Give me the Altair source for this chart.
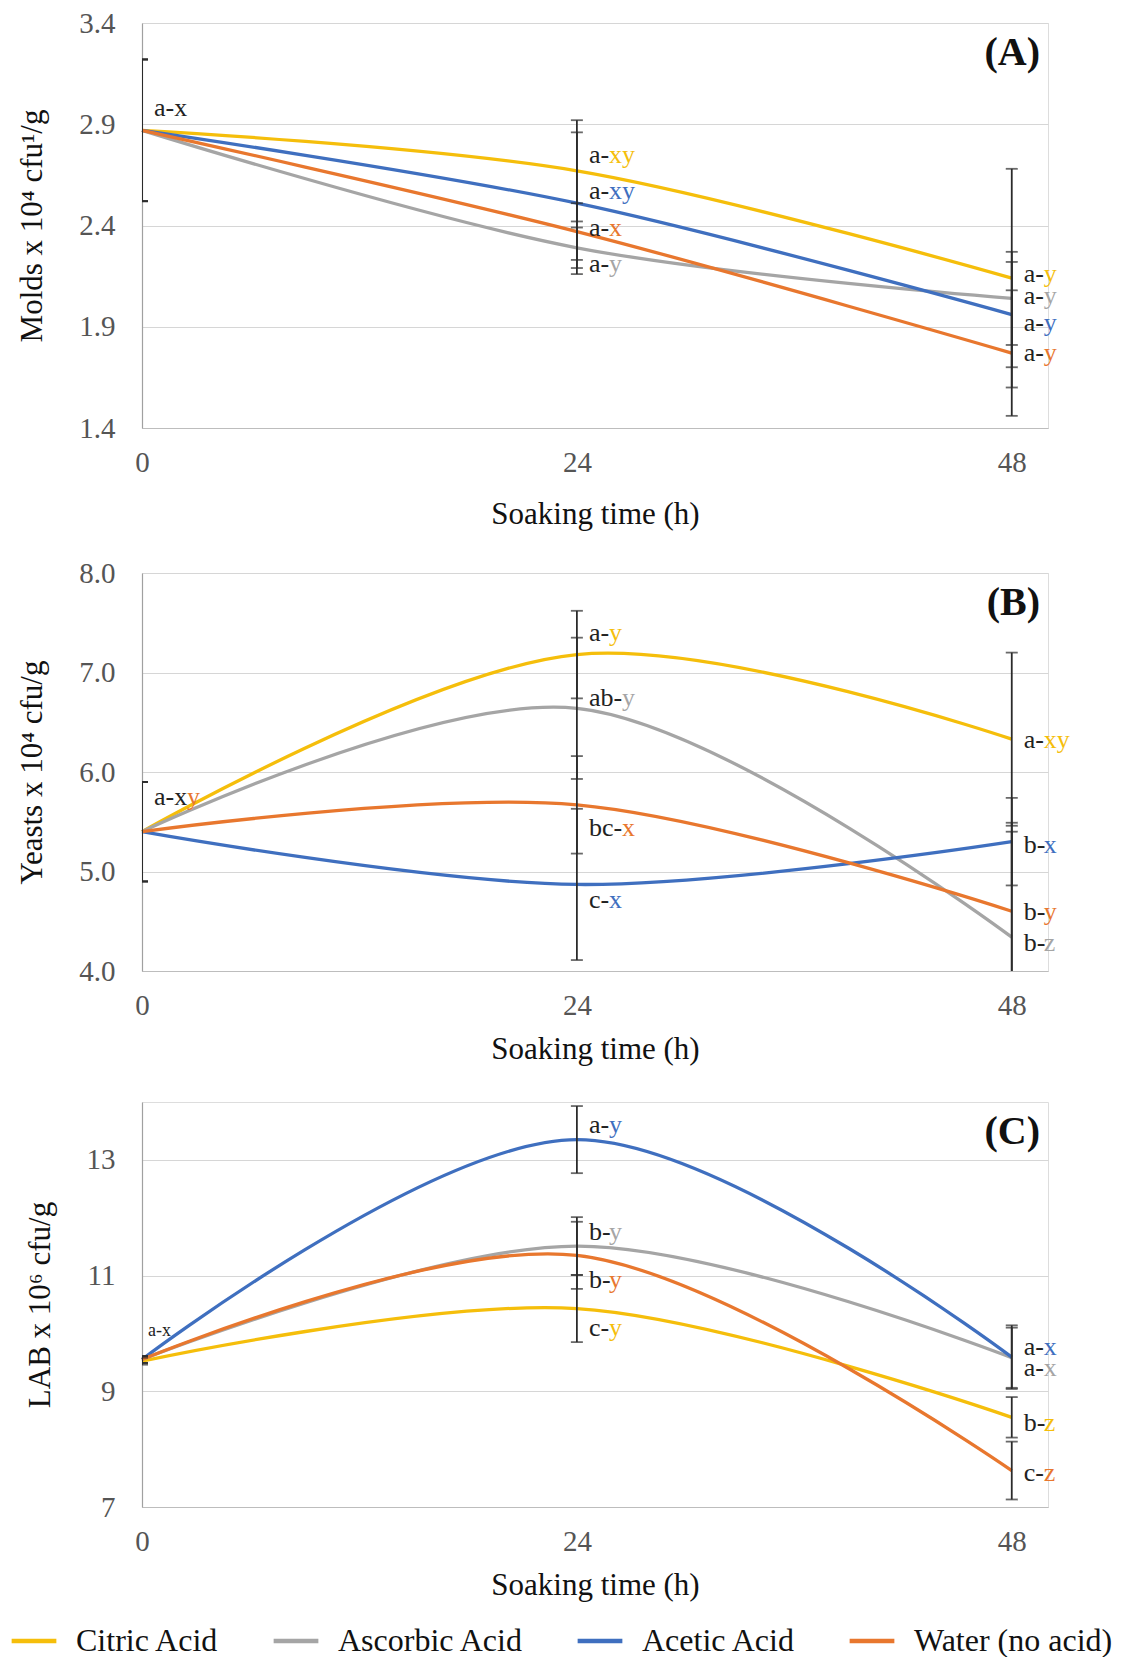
import altair as alt
import pandas as pd

SERIF = "Liberation Serif"
SERIES = ["Citric Acid", "Ascorbic Acid", "Acetic Acid", "Water (no acid)"]
COLORS = ["#F5BE0B", "#A5A5A5", "#3F6FBF", "#E8772E"]
TIMES = [0, 24, 48]

# ---------------- Panel A : Molds ----------------
A_values = {
    "Citric Acid": [2.87, 2.67, 2.14],
    "Ascorbic Acid": [2.87, 2.29, 2.04],
    "Acetic Acid": [2.87, 2.51, 1.96],
    "Water (no acid)": [2.87, 2.37, 1.77],
}
A_errors = {
    "Citric Acid": [0.35, 0.25, 0.54],
    "Ascorbic Acid": [0.35, 0.10, 0.23],
    "Acetic Acid": [0.35, 0.35, 0.26],
    "Water (no acid)": [0.35, 0.14, 0.31],
}
A_label_time = [0, 24, 24, 24, 24, 48, 48, 48, 48]
A_label_y = [2.98, 2.75, 2.57, 2.39, 2.21, 2.16, 2.05, 1.92, 1.77]
A_label_pre = ["a-x", "a-", "a-", "a-", "a-", "a-", "a-", "a-", "a-"]
A_label_suf = ["", "xy", "xy", "x", "y", "y", "y", "y", "y"]
A_label_ser = ["none", "Citric Acid", "Acetic Acid", "Water (no acid)", "Ascorbic Acid",
               "Citric Acid", "Ascorbic Acid", "Acetic Acid", "Water (no acid)"]

# ---------------- Panel B : Yeasts ----------------
B_values = {
    "Citric Acid": [5.40, 7.18, 6.33],
    "Ascorbic Acid": [5.40, 6.64, 4.34],
    "Acetic Acid": [5.40, 4.87, 5.30],
    "Water (no acid)": [5.40, 5.67, 4.60],
}
B_errors = {
    "Citric Acid": [0.50, 0.44, 0.87],
    "Ascorbic Acid": [0.50, 0.71, 1.15],
    "Acetic Acid": [0.50, 0.76, 0.44],
    "Water (no acid)": [0.50, 0.49, 0.80],
}
B_label_time = [0, 24, 24, 24, 24, 48, 48, 48, 48]
B_label_y = [5.75, 7.40, 6.74, 5.44, 4.71, 6.32, 5.27, 4.59, 4.28]
B_label_pre = ["a-x", "a-", "ab-", "bc-", "c-", "a-", "b-", "b-", "b-"]
B_label_suf = ["y", "y", "y", "x", "x", "xy", "x", "y", "z"]
B_label_ser = ["Water (no acid)", "Citric Acid", "Ascorbic Acid", "Water (no acid)", "Acetic Acid",
               "Citric Acid", "Acetic Acid", "Water (no acid)", "Ascorbic Acid"]

# ---------------- Panel C : LAB ----------------
C_values = {
    "Citric Acid": [9.52, 10.43, 8.55],
    "Ascorbic Acid": [9.55, 11.51, 9.58],
    "Acetic Acid": [9.55, 13.35, 9.59],
    "Water (no acid)": [9.55, 11.35, 7.63],
}
C_errors = {
    "Citric Acid": [0.06, 0.58, 0.35],
    "Ascorbic Acid": [0.06, 0.50, 0.52],
    "Acetic Acid": [0.06, 0.58, 0.55],
    "Water (no acid)": [0.06, 0.58, 0.50],
}
C_label_time = [0, 24, 24, 24, 24, 48, 48, 48, 48]
C_label_y = [10.04, 13.61, 11.75, 10.92, 10.09, 9.76, 9.41, 8.46, 7.59]
C_label_pre = ["a-x", "a-", "b-", "b-", "c-", "a-", "a-", "b-", "c-"]
C_label_suf = ["", "y", "y", "y", "y", "x", "x", "z", "z"]
C_label_ser = ["none", "Acetic Acid", "Ascorbic Acid", "Water (no acid)", "Citric Acid",
               "Acetic Acid", "Ascorbic Acid", "Citric Acid", "Water (no acid)"]

PLOT_W = 906
LABEL_DX = 12
LABEL_FS = 26
W2 = 20   # approx width of a 2-char prefix
W3 = 33   # approx width of a 3-char prefix


def long_df(values, errors):
    rows = []
    for s in SERIES:
        for t, v, e in zip(TIMES, values[s], errors[s]):
            rows.append({"series": s, "time": t, "value": v, "err": e})
    return pd.DataFrame(rows)


def label_df(times, ys, pre, suf, ser):
    return pd.DataFrame({"time": times, "ly": ys, "prefix": pre, "suffix": suf, "sser": ser})


def panel(values, errors, labels, domain, ticks, fmt, ytitle, ptitle, height,
          label0_size, show_legend, xtitle_pad):
    df = long_df(values, errors)
    ldf = label_df(*labels)
    xscale = alt.Scale(domain=[0, 50], nice=False, zero=False)
    yscale = alt.Scale(domain=domain, nice=False, zero=False)
    xaxis = alt.Axis(values=TIMES, grid=False, ticks=False, domain=True,
                     domainColor="#bdbdbd", domainWidth=1.2, labelFont=SERIF,
                     labelFontSize=29, labelColor="#555555", labelPadding=20,
                     labelFlush=False, title="Soaking time (h)", titleFont=SERIF,
                     titleFontSize=31, titleFontWeight="normal", titleColor="#111111",
                     titlePadding=xtitle_pad)
    yaxis = alt.Axis(values=ticks, format=fmt, grid=True, gridColor="#d6d6d6",
                     gridWidth=1.2, ticks=False, domain=True, domainColor="#a0a0a0",
                     domainWidth=1.2, labelFont=SERIF, labelFontSize=29,
                     labelColor="#555555", labelPadding=27, title=ytitle,
                     titleFont=SERIF, titleFontSize=31, titleFontWeight="normal",
                     titleColor="#111111", titlePadding=30)
    x = alt.X("time:Q", scale=xscale, axis=xaxis)

    if show_legend:
        legend = alt.Legend(orient="none", legendX=-133, legendY=514,
                            direction="horizontal", columns=4, symbolType="stroke",
                            symbolStrokeWidth=4.5, symbolSize=2000, labelFont=SERIF,
                            labelFontSize=32, labelColor="#111111", labelOffset=17,
                            columnPadding=44, title=None, labelLimit=400)
    else:
        legend = None
    color = alt.Color("series:N", scale=alt.Scale(domain=SERIES, range=COLORS),
                      legend=legend)

    base = alt.Chart(df)
    lines = base.mark_line(interpolate="catmull-rom", strokeWidth=3.3).encode(
        x=x, y=alt.Y("value:Q", scale=yscale, axis=yaxis), color=color,
        order=alt.Order("time:Q"))

    ebase = base.transform_calculate(lo="datum.value - datum.err",
                                     hi="datum.value + datum.err")
    rules = ebase.mark_rule(color="#2b2b2b", strokeWidth=1.8, clip=True).encode(
        x=alt.X("time:Q", scale=xscale), y=alt.Y("lo:Q", scale=yscale), y2="hi:Q")
    caps = ebase.transform_fold(["lo", "hi"], as_=["end", "cap"]).mark_tick(
        orient="horizontal", size=12, thickness=1.8, color="#2b2b2b", clip=True).encode(
        x=alt.X("time:Q", scale=xscale), y=alt.Y("cap:Q", scale=yscale))

    lbase = alt.Chart(ldf)
    ly = alt.Y("ly:Q", scale=yscale)
    lx = alt.X("time:Q", scale=xscale)
    pre0 = lbase.transform_filter("datum.time == 0").mark_text(
        align="left", baseline="middle", dx=LABEL_DX - 6 if label0_size < 24 else LABEL_DX,
        font=SERIF, fontSize=label0_size, color="#222222").encode(
        x=lx, y=ly, text="prefix:N")
    pre = lbase.transform_filter("datum.time > 0").mark_text(
        align="left", baseline="middle", dx=LABEL_DX, font=SERIF, fontSize=LABEL_FS,
        color="#222222").encode(x=lx, y=ly, text="prefix:N")
    fill = alt.Fill("sser:N", scale=alt.Scale(domain=SERIES + ["none"],
                                              range=COLORS + ["#222222"]), legend=None)
    suf2 = lbase.transform_filter("length(datum.prefix) == 2").mark_text(
        align="left", baseline="middle", dx=LABEL_DX + W2, font=SERIF,
        fontSize=LABEL_FS).encode(x=lx, y=ly, text="suffix:N", fill=fill)
    suf3 = lbase.transform_filter("length(datum.prefix) == 3").mark_text(
        align="left", baseline="middle", dx=LABEL_DX + W3, font=SERIF,
        fontSize=LABEL_FS).encode(x=lx, y=ly, text="suffix:N", fill=fill)

    ptext = alt.Chart(pd.DataFrame({"t": [ptitle]})).mark_text(
        align="right", baseline="middle", dx=-8, dy=30, font=SERIF, fontSize=40,
        fontWeight="bold", color="#111111").encode(
        x=alt.X(datum=50, type="quantitative", scale=xscale),
        y=alt.Y(datum=domain[1], type="quantitative", scale=yscale),
        text="t:N")

    return alt.layer(lines, rules, caps, pre0, pre, suf2, suf3, ptext).properties(
        width=PLOT_W, height=height)


chartA = panel(A_values, A_errors,
               (A_label_time, A_label_y, A_label_pre, A_label_suf, A_label_ser),
               [1.4, 3.4], [1.4, 1.9, 2.4, 2.9, 3.4], ".1f",
               "Molds x 10⁴ cfu¹/g", "(A)", 405, 26, False, 22)
chartB = panel(B_values, B_errors,
               (B_label_time, B_label_y, B_label_pre, B_label_suf, B_label_ser),
               [4.0, 8.0], [4.0, 5.0, 6.0, 7.0, 8.0], ".1f",
               "Yeasts x 10⁴ cfu/g", "(B)", 398, 26, False, 14)
chartC = panel(C_values, C_errors,
               (C_label_time, C_label_y, C_label_pre, C_label_suf, C_label_ser),
               [7, 14], [7, 9, 11, 13], "d",
               "LAB x 10⁶ cfu/g", "(C)", 405, 18, True, 14)

inner = alt.vconcat(chartB, chartC, spacing=36).resolve_scale(
    color="independent", fill="independent", y="independent", x="independent")
chart = alt.vconcat(chartA, inner, spacing=28).resolve_scale(
    color="independent", fill="independent", y="independent", x="independent"
).properties(padding={"left": 0, "top": 0, "right": 0, "bottom": 0}).configure_view(
    stroke=None).configure(background="#ffffff")

chart.save("out.html", embed_options={"renderer": "svg", "actions": False})
